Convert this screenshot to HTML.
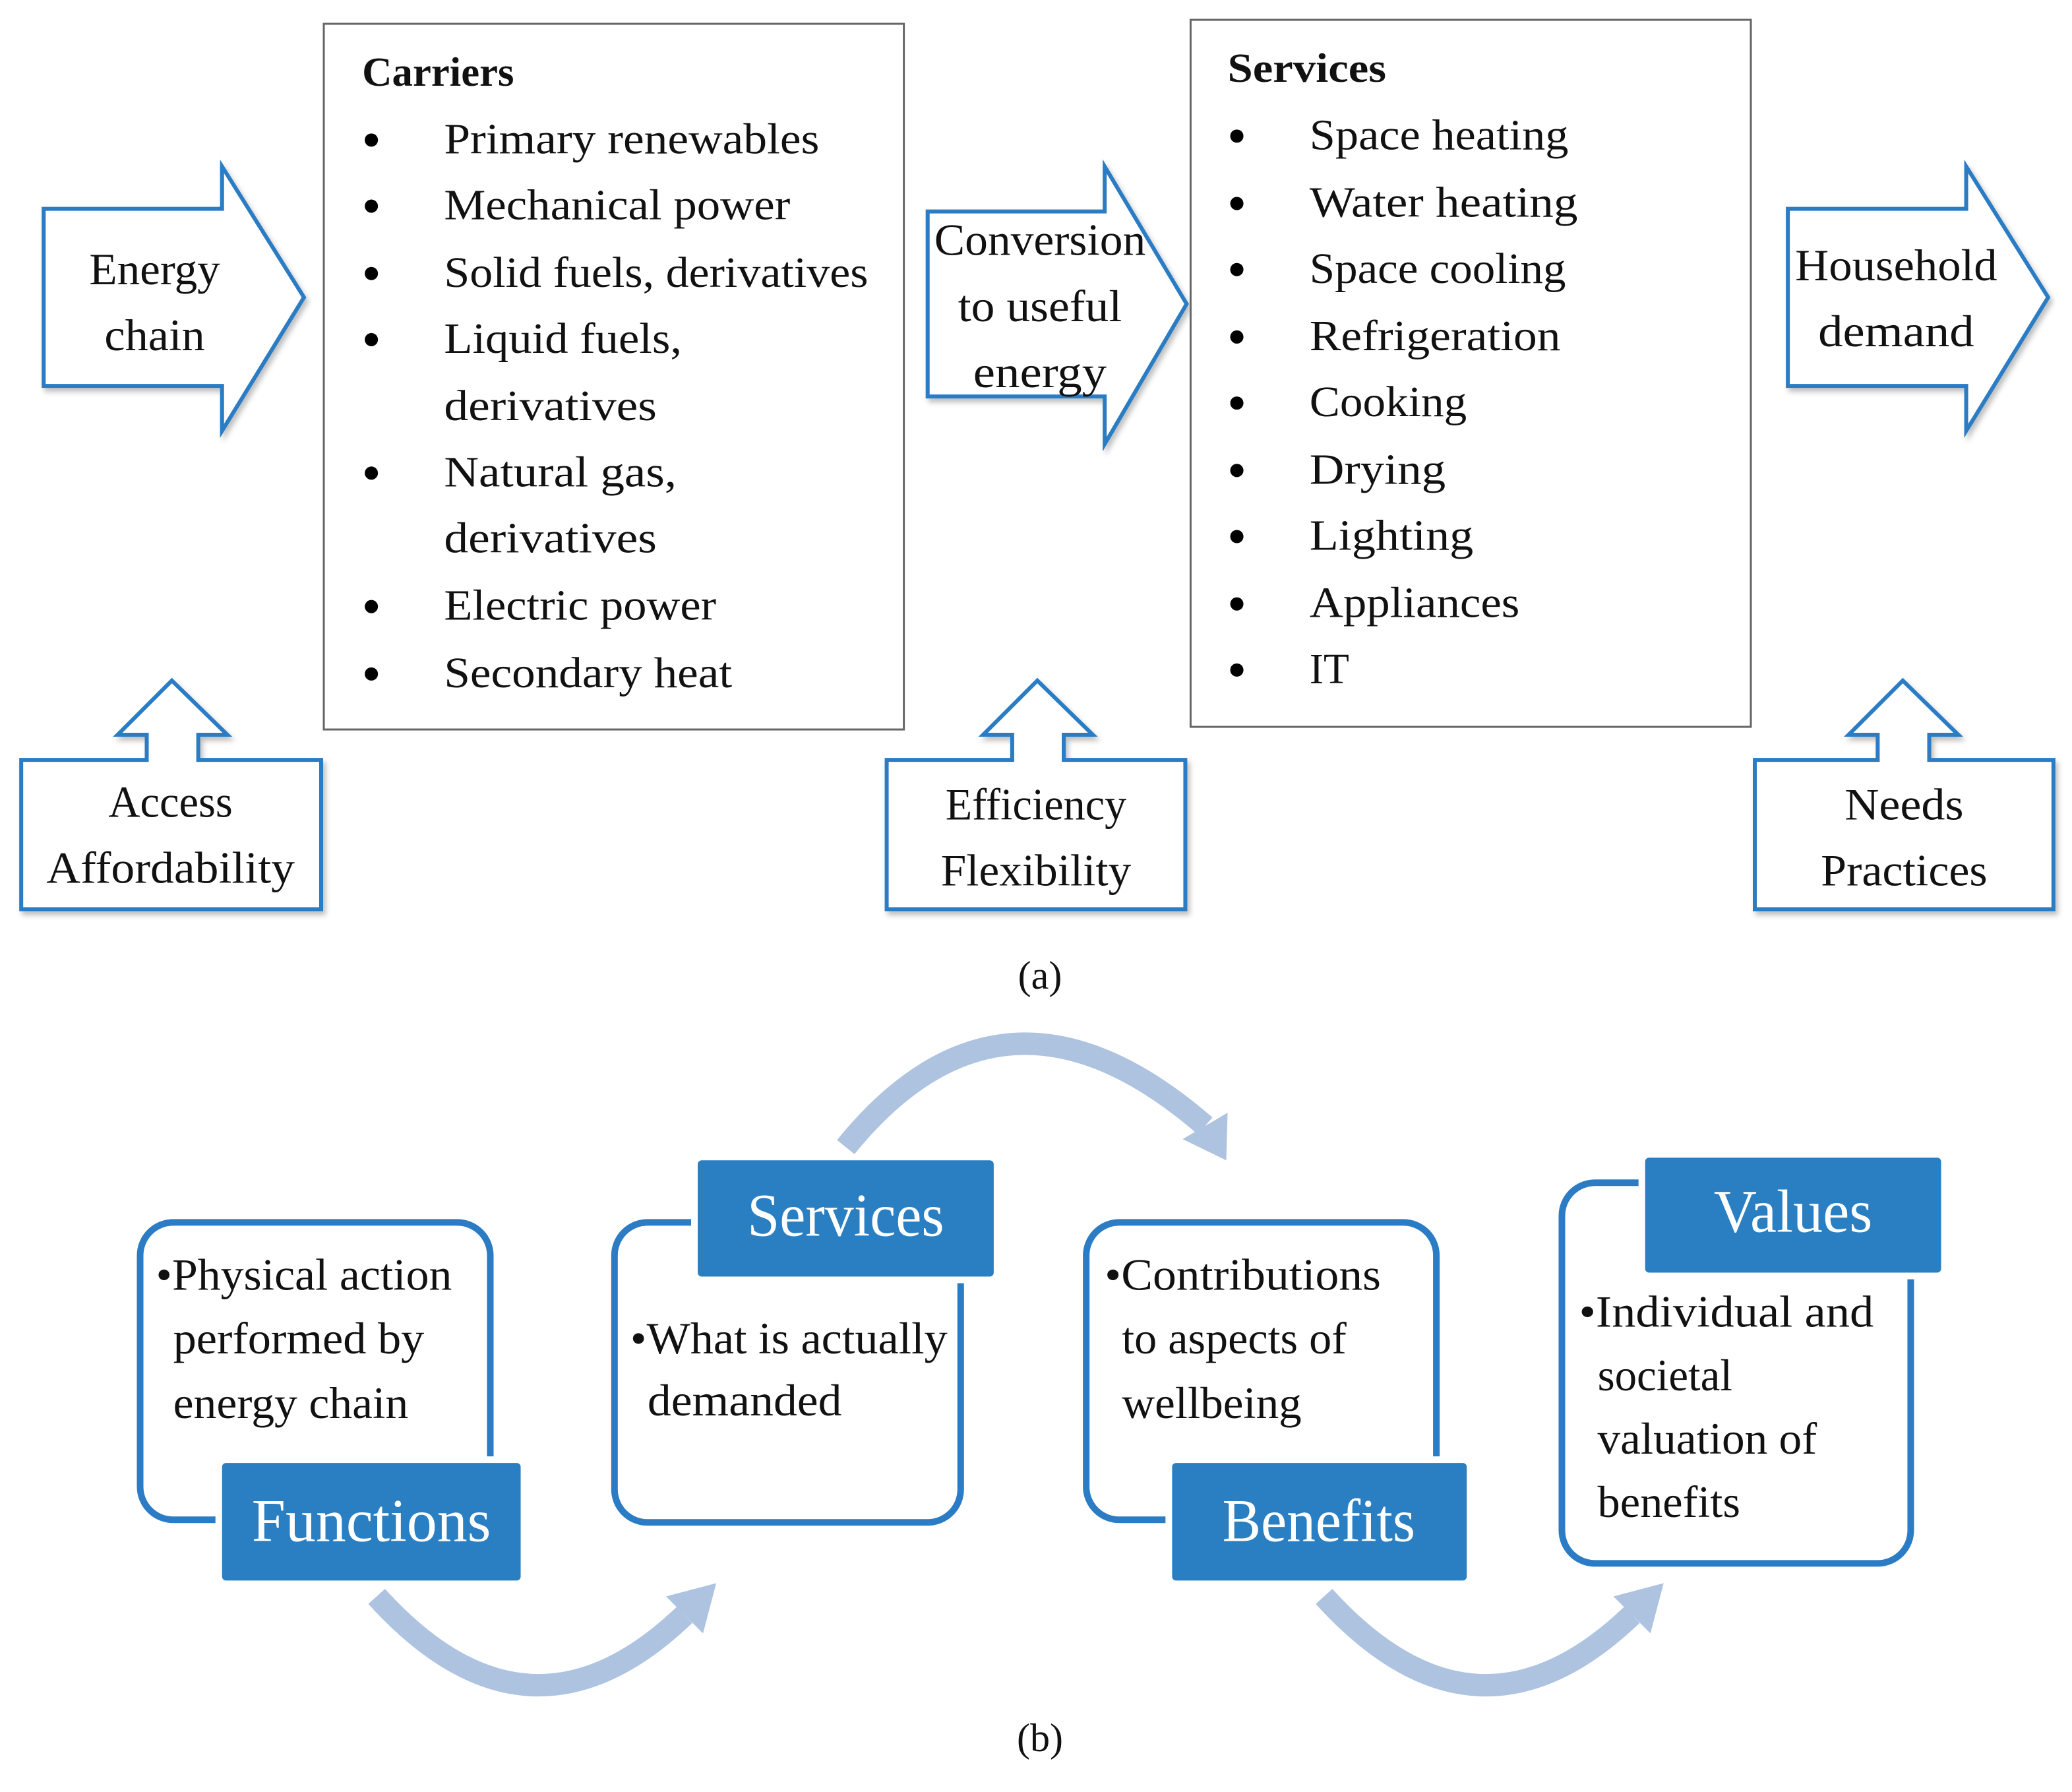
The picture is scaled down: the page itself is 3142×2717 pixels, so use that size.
<!DOCTYPE html>
<html><head><meta charset="utf-8"><style>html,body{margin:0;padding:0;background:#fff}svg{display:block}</style></head>
<body>
<svg width="3142" height="2717" viewBox="0 0 1568 1356" xmlns="http://www.w3.org/2000/svg" font-family="Liberation Serif, serif">
<defs><filter id="sh" x="-10%" y="-10%" width="130%" height="130%"><feDropShadow dx="2" dy="3" stdDeviation="2" flood-color="#000" flood-opacity="0.25"/></filter></defs>
<g fill="#fff" stroke="#2b7cc4" stroke-width="3" filter="url(#sh)">
<polygon points="33,158 168,158 168,126 230,225 168,326 168,292 33,292"/>
<polygon points="702,160 836,160 836,126 898,230 836,336 836,300 702,300"/>
<polygon points="1353,158 1488,158 1488,126 1550,225 1488,326 1488,292 1353,292"/>
<polygon points="16,688 16,575 111,575 111,556 89,556 130,515 172,556 150,556 150,575 243,575 243,688"/>
<polygon points="671,688 671,575 766,575 766,556 744,556 785,515 827,556 805,556 805,575 897,575 897,688"/>
<polygon points="1328,688 1328,575 1421,575 1421,556 1399,556 1440,515 1482,556 1460,556 1460,575 1554,575 1554,688"/>
</g>
<g fill="#111" font-size="34" text-anchor="middle" lengthAdjust="spacingAndGlyphs">
<text x="117" y="215" textLength="99" lengthAdjust="spacingAndGlyphs">Energy</text><text x="117" y="265" textLength="76" lengthAdjust="spacingAndGlyphs">chain</text>
<text x="787" y="193" textLength="160" lengthAdjust="spacingAndGlyphs">Conversion</text><text x="787" y="243" textLength="124" lengthAdjust="spacingAndGlyphs">to useful</text><text x="787" y="293" textLength="101" lengthAdjust="spacingAndGlyphs">energy</text>
<text x="1435" y="212" textLength="153" lengthAdjust="spacingAndGlyphs">Household</text><text x="1435" y="262" textLength="118" lengthAdjust="spacingAndGlyphs">demand</text>
<text x="129" y="618" textLength="94" lengthAdjust="spacingAndGlyphs">Access</text><text x="129" y="668" textLength="188" lengthAdjust="spacingAndGlyphs">Affordability</text>
<text x="784" y="620" textLength="137" lengthAdjust="spacingAndGlyphs">Efficiency</text><text x="784" y="670" textLength="144" lengthAdjust="spacingAndGlyphs">Flexibility</text>
<text x="1441" y="620" textLength="90" lengthAdjust="spacingAndGlyphs">Needs</text><text x="1441" y="670" textLength="126" lengthAdjust="spacingAndGlyphs">Practices</text>
<text x="787" y="748" font-size="30">(a)</text>
<text x="787" y="1325" font-size="30">(b)</text>
</g>
<rect x="245" y="18" width="439" height="534" fill="#fff" stroke="#666" stroke-width="1.5"/>
<rect x="901" y="15" width="424" height="535" fill="#fff" stroke="#666" stroke-width="1.5"/>
<g fill="#111" font-size="33">
<text x="274" y="65" font-weight="bold" font-size="31" textLength="115" lengthAdjust="spacingAndGlyphs">Carriers</text>
<text x="336" y="116" textLength="284" lengthAdjust="spacingAndGlyphs">Primary renewables</text>
<text x="336" y="166" textLength="262" lengthAdjust="spacingAndGlyphs">Mechanical power</text>
<text x="336" y="217" textLength="321" lengthAdjust="spacingAndGlyphs">Solid fuels, derivatives</text>
<text x="336" y="267" textLength="180" lengthAdjust="spacingAndGlyphs">Liquid fuels,</text>
<text x="336" y="318" textLength="161" lengthAdjust="spacingAndGlyphs">derivatives</text>
<text x="336" y="368" textLength="176" lengthAdjust="spacingAndGlyphs">Natural gas,</text>
<text x="336" y="418" textLength="161" lengthAdjust="spacingAndGlyphs">derivatives</text>
<text x="336" y="469" textLength="206" lengthAdjust="spacingAndGlyphs">Electric power</text>
<text x="336" y="520" textLength="218" lengthAdjust="spacingAndGlyphs">Secondary heat</text>
<text x="929" y="62" font-weight="bold" font-size="31" textLength="120" lengthAdjust="spacingAndGlyphs">Services</text>
<text x="991" y="113" textLength="196" lengthAdjust="spacingAndGlyphs">Space heating</text>
<text x="991" y="164" textLength="203" lengthAdjust="spacingAndGlyphs">Water heating</text>
<text x="991" y="214" textLength="194" lengthAdjust="spacingAndGlyphs">Space cooling</text>
<text x="991" y="265" textLength="190" lengthAdjust="spacingAndGlyphs">Refrigeration</text>
<text x="991" y="315" textLength="119" lengthAdjust="spacingAndGlyphs">Cooking</text>
<text x="991" y="366" textLength="103" lengthAdjust="spacingAndGlyphs">Drying</text>
<text x="991" y="416" textLength="124" lengthAdjust="spacingAndGlyphs">Lighting</text>
<text x="991" y="467" textLength="159" lengthAdjust="spacingAndGlyphs">Appliances</text>
<text x="991" y="517" textLength="30" lengthAdjust="spacingAndGlyphs">IT</text>
</g>
<g fill="#000">
<circle cx="281" cy="106" r="5"/><circle cx="281" cy="156" r="5"/><circle cx="281" cy="207" r="5"/><circle cx="281" cy="257" r="5"/><circle cx="281" cy="358" r="5"/><circle cx="281" cy="459" r="5"/><circle cx="281" cy="510" r="5"/>
<circle cx="936" cy="103" r="5"/><circle cx="936" cy="154" r="5"/><circle cx="936" cy="204" r="5"/><circle cx="936" cy="255" r="5"/><circle cx="936" cy="305" r="5"/><circle cx="936" cy="356" r="5"/><circle cx="936" cy="406" r="5"/><circle cx="936" cy="457" r="5"/><circle cx="936" cy="507" r="5"/>
</g>
<g fill="none" stroke="#aec3e0" stroke-width="17">
<path d="M 285 1208 Q 400 1335 518 1222"/>
<path d="M 1002 1208 Q 1117 1335 1235 1222"/>
<path d="M 640 868 Q 760 720 912 852"/>
</g>
<g fill="#aec3e0">
<polygon points="542,1198 504,1208 532,1236"/>
<polygon points="1259,1198 1221,1208 1249,1236"/>
<polygon points="928,878 929,842 895,862"/>
</g>
<g fill="none" stroke="#2b7cc4" stroke-width="5">
<rect x="106" y="925" width="265" height="225" rx="25"/>
<rect x="465" y="925" width="262" height="227" rx="25"/>
<rect x="822" y="925" width="265" height="225" rx="25"/>
<rect x="1182" y="895" width="264" height="288" rx="25"/>
</g>
<g fill="#2a7fc2" stroke="#fff" stroke-width="10">
<rect x="168" y="1107" width="226" height="89" rx="3"/>
<rect x="528" y="878" width="224" height="88" rx="3"/>
<rect x="887" y="1107" width="223" height="89" rx="3"/>
<rect x="1245" y="876" width="224" height="87" rx="3"/>
</g>
<g fill="#2a7fc2">
<rect x="168" y="1107" width="226" height="89" rx="3"/>
<rect x="528" y="878" width="224" height="88" rx="3"/>
<rect x="887" y="1107" width="223" height="89" rx="3"/>
<rect x="1245" y="876" width="224" height="87" rx="3"/>
</g>
<g fill="#fff" font-size="46" text-anchor="middle">
<text x="281" y="1166" textLength="181" lengthAdjust="spacingAndGlyphs">Functions</text>
<text x="640" y="935" textLength="149" lengthAdjust="spacingAndGlyphs">Services</text>
<text x="998" y="1166" textLength="146" lengthAdjust="spacingAndGlyphs">Benefits</text>
<text x="1357" y="932" textLength="120" lengthAdjust="spacingAndGlyphs">Values</text>
</g>
<g fill="#111" font-size="34">
<text x="118" y="976" textLength="224" lengthAdjust="spacingAndGlyphs">•Physical action</text>
<text x="131" y="1024" textLength="190" lengthAdjust="spacingAndGlyphs">performed by</text>
<text x="131" y="1073" textLength="178" lengthAdjust="spacingAndGlyphs">energy chain</text>
<text x="477" y="1024" textLength="240" lengthAdjust="spacingAndGlyphs">•What is actually</text>
<text x="490" y="1071" textLength="147" lengthAdjust="spacingAndGlyphs">demanded</text>
<text x="836" y="976" textLength="209" lengthAdjust="spacingAndGlyphs">•Contributions</text>
<text x="849" y="1024" textLength="170" lengthAdjust="spacingAndGlyphs">to aspects of</text>
<text x="849" y="1073" textLength="136" lengthAdjust="spacingAndGlyphs">wellbeing</text>
<text x="1195" y="1004" textLength="223" lengthAdjust="spacingAndGlyphs">•Individual and</text>
<text x="1209" y="1052" textLength="102" lengthAdjust="spacingAndGlyphs">societal</text>
<text x="1209" y="1100" textLength="166" lengthAdjust="spacingAndGlyphs">valuation of</text>
<text x="1209" y="1148" textLength="108" lengthAdjust="spacingAndGlyphs">benefits</text>
</g>
</svg>
</body></html>
